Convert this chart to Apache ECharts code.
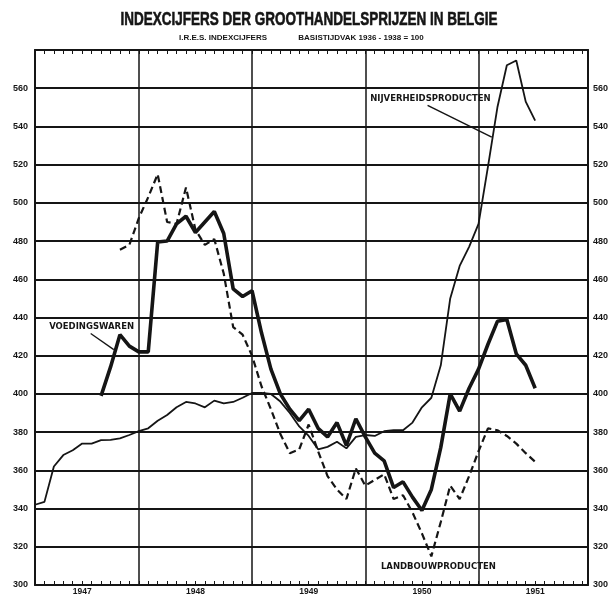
<!DOCTYPE html>
<html>
<head>
<meta charset="utf-8">
<title>Indexcijfers der groothandelsprijzen in Belgie</title>
<script src="https://cdn.jsdelivr.net/npm/echarts@6/dist/echarts.min.js"></script>
<style>
html,body{margin:0;padding:0;background:#fff;}
#chart{width:615px;height:597px;}
</style>
</head>
<body>
<div id="chart"></div>
<script>
// maanden geteld vanaf januari 1947 = 0 (1 = februari 1947)
const yearLabels = ['1947', '1948', '1949', '1950', '1951'];
const yearBounds = [12, 24, 36, 48];
const yMin = 300, yMax = 580, yStep = 20;

// nijverheidsproducten, vanaf maand 1
const nijverheidStart = 1;
const nijverheid = [342, 343.5, 362, 368, 370.5, 374, 374, 375.8, 376, 376.7, 378.5, 380.5,
  382, 386, 389, 393, 395.8, 395, 393, 396.5, 395, 395.8, 398, 400.5,
  400.5, 400, 396, 390, 383, 378, 371, 372.3, 375, 371.5, 377.5, 378.5,
  378, 380.5, 381, 381, 385, 393, 398, 415, 450, 467, 477, 489,
  519, 550, 572, 574.5, 553, 543];

// voedingswaren, vanaf maand 8
const voedingStart = 8;
const voedingswaren = [399, 414, 431, 425, 422, 422, 479.5, 480, 489, 493, 484.5, 490,
  495.5, 484, 455, 451, 454, 432, 413, 400, 392, 386, 392, 382,
  377.5, 385, 373, 387, 377.5, 369, 365, 351, 354, 346, 339, 350,
  372, 400, 391, 403, 413, 426, 438, 439, 421, 415, 403];

// landbouwproducten, vanaf maand 10
const landbouwStart = 10;
const landbouw = [475.5, 478, 492, 503, 515, 490, 489, 508, 486, 478, 481, 463,
  435, 431, 420, 404, 392, 379, 369, 371, 384, 370, 357, 350,
  345, 361, 352, 355, 358, 345, 347, 338, 327, 315, 333, 352,
  345, 357, 370, 382, 381, 378, 374, 369, 364.5];

const ink = '#151515';
const numFont = {color: ink, fontFamily: '"Liberation Sans", Arial, sans-serif', fontWeight: 'bold', fontSize: 9};
const noteFont = {color: ink, fontFamily: '"DejaVu Sans", sans-serif', fontWeight: 'bold', fontSize: 8.5};

const toPairs = (start, arr) => arr.map((v, i) => [start + i, v]);

const chart = echarts.init(document.getElementById('chart'), null, {renderer: 'canvas'});

const xCommon = {
    type: 'value', min: 1, max: 59.6, interval: 1,
    axisLine: {show: true, onZero: false, lineStyle: {color: ink, width: 2}},
    axisTick: {show: true, inside: true, length: 4, lineStyle: {color: ink, width: 1}},
    splitLine: {show: false}
};
const yCommon = {
    type: 'value', min: yMin, max: yMax, interval: yStep,
    axisLine: {show: true, lineStyle: {color: ink, width: 2}},
    axisTick: {show: false}
};

const noteLabel = (text) => ({
    show: true, position: 'inside', formatter: text, ...noteFont
});

chart.setOption({
    animation: false,
    backgroundColor: '#fff',
    graphic: [
        {
            type: 'text', x: 309, y: 20, scaleX: 0.71, silent: true,
            style: {
                text: 'INDEXCIJFERS DER GROOTHANDELSPRIJZEN IN BELGIE',
                font: 'bold 19px "Liberation Sans Narrow", "Liberation Sans", sans-serif',
                fill: ink, stroke: ink, lineWidth: 0.6,
                textAlign: 'center', textVerticalAlign: 'middle'
            }
        },
        {
            type: 'text', x: 223, y: 38, silent: true,
            style: {
                text: 'I.R.E.S. INDEXCIJFERS',
                font: 'bold 8px "Liberation Sans", sans-serif',
                fill: ink, textAlign: 'center', textVerticalAlign: 'middle'
            }
        },
        {
            type: 'text', x: 361, y: 38, silent: true,
            style: {
                text: 'BASISTIJDVAK 1936 - 1938 = 100',
                font: 'bold 8px "Liberation Sans", sans-serif',
                fill: ink, textAlign: 'center', textVerticalAlign: 'middle'
            }
        }
    ],
    grid: {left: 35, right: 27, top: 50, bottom: 12},
    xAxis: [
        Object.assign({}, xCommon, {
            position: 'bottom',
            axisLabel: {
                show: true, margin: 2,
                formatter: v => (v % 12 === 6 ? yearLabels[(v - 6) / 12] : ''),
                ...numFont, fontSize: 8.5
            }
        }),
        Object.assign({}, xCommon, {position: 'top', axisLabel: {show: false}})
    ],
    yAxis: [
        Object.assign({}, yCommon, {
            position: 'left',
            axisLabel: {margin: 7, formatter: v => (v === yMax ? '' : v), ...numFont},
            splitLine: {show: true, lineStyle: {color: ink, width: 2}}
        }),
        Object.assign({}, yCommon, {
            position: 'right',
            axisLabel: {margin: 5, formatter: v => (v === yMax ? '' : v), ...numFont},
            splitLine: {show: false}
        })
    ],
    series: [
        {
            name: 'Nijverheidsproducten', type: 'line',
            data: toPairs(nijverheidStart, nijverheid),
            showSymbol: false, symbol: 'none',
            lineStyle: {color: ink, width: 1.8},
            z: 3,
            markLine: {
                silent: true, symbol: ['none', 'none'], label: {show: false},
                lineStyle: {color: ink, width: 1.5, type: 'solid'},
                data: yearBounds.map(b => ({xAxis: b})).concat([
                    [{coord: [42.6, 551]}, {coord: [49.4, 534.4]}]
                ])
            },
            markPoint: {
                silent: true, symbol: 'circle', symbolSize: 0,
                itemStyle: {color: 'transparent'},
                data: [{coord: [42.9, 554.6], label: noteLabel('NIJVERHEIDSPRODUCTEN')}]
            }
        },
        {
            name: 'Voedingswaren', type: 'line',
            data: toPairs(voedingStart, voedingswaren),
            showSymbol: false, symbol: 'none',
            lineStyle: {color: ink, width: 3.6},
            z: 4,
            markLine: {
                silent: true, symbol: ['none', 'none'], label: {show: false},
                lineStyle: {color: ink, width: 1.3, type: 'solid'},
                data: [[{coord: [6.9, 431.6]}, {coord: [9.35, 423.2]}]]
            },
            markPoint: {
                silent: true, symbol: 'circle', symbolSize: 0,
                itemStyle: {color: 'transparent'},
                data: [{coord: [7.0, 434.9], label: noteLabel('VOEDINGSWAREN')}]
            }
        },
        {
            name: 'Landbouwproducten', type: 'line',
            data: toPairs(landbouwStart, landbouw),
            showSymbol: false, symbol: 'none',
            lineStyle: {color: ink, width: 2.2, type: [7, 4]},
            z: 3,
            markPoint: {
                silent: true, symbol: 'circle', symbolSize: 0,
                itemStyle: {color: 'transparent'},
                data: [{coord: [43.75, 309.7], label: noteLabel('LANDBOUWPRODUCTEN')}]
            }
        }
    ]
});
</script>
</body>
</html>
